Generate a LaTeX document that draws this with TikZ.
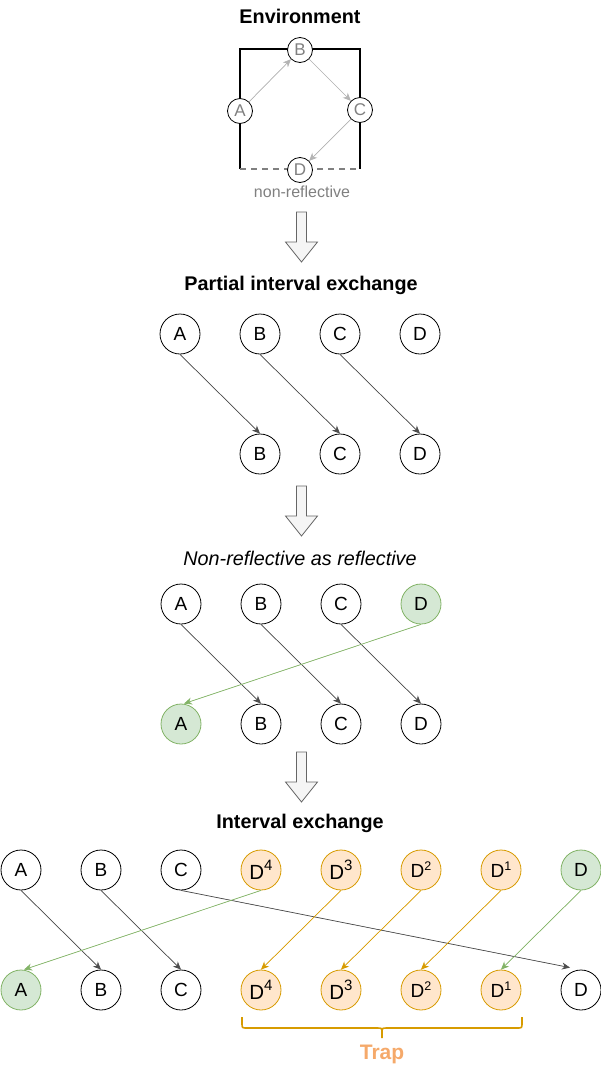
\documentclass[tikz,border=0pt]{standalone}
\usepackage{fontspec}
\setmainfont{Liberation Sans}
\usetikzlibrary{arrows.meta}
\definecolor{greenfill}{HTML}{D5E8D4}
\definecolor{greenline}{HTML}{82B366}
\definecolor{orangefill}{HTML}{FFE6CC}
\definecolor{orangeline}{HTML}{D79B00}
\definecolor{edgegray}{HTML}{4D4D4D}
\definecolor{envgray}{HTML}{808080}
\definecolor{envarrow}{HTML}{B3B3B3}
\definecolor{trapcol}{HTML}{F5A96A}
\definecolor{blockfill}{HTML}{F5F5F5}
\definecolor{blockline}{HTML}{666666}
\newcommand{\supbig}[1]{\raisebox{0.42em}{\fontsize{15}{15}\selectfont #1}}
\newcommand{\supsmall}[1]{\raisebox{0.36em}{\fontsize{12.5}{13}\selectfont #1}}
\tikzset{
  circ/.style={circle, draw, line width=0.8pt, minimum size=40pt, inner sep=0pt, fill=white, font=\fontsize{19}{21}\selectfont},
  gcirc/.style={circ, fill=greenfill, draw=greenline},
  ocirc/.style={circ, fill=orangefill, draw=orangeline, font=\fontsize{20.5}{22}\selectfont},
  ocircs/.style={circ, fill=orangefill, draw=orangeline, font=\fontsize{19}{20}\selectfont},
  ecirc/.style={circle, draw, line width=0.8pt, minimum size=25pt, inner sep=0pt, fill=white, text=envgray, font=\fontsize{17}{18}\selectfont},
  title/.style={font=\fontsize{19.8}{22}\selectfont\bfseries},
  tip/.style={-{Stealth[length=8pt,width=7pt,inset=2.5pt]}},
  edge/.style={tip, draw=edgegray, fill=edgegray, line width=0.7pt},
  gedge/.style={tip, draw=greenline, fill=greenline, line width=0.7pt},
  oedge/.style={tip, draw=orangeline, fill=orangeline, line width=0.7pt},
  eedge/.style={tip, draw=envarrow, fill=envarrow, line width=0.7pt},
  blockarrow/.style={fill=blockfill, draw=blockline, line width=0.8pt, line join=miter},
}
\newcommand{\blockdown}[1]{%
  \draw[blockarrow] (296.5,#1) -- (306.5,#1) -- (306.5,#1+30) -- (317.5,#1+30)
    -- (301.5,#1+50) -- (285.5,#1+30) -- (296.5,#1+30) -- cycle;}
\begin{document}
\begin{tikzpicture}[x=1pt,y=-1pt]
\useasboundingbox (0,0) rectangle (601,1071);

% ---------- Environment ----------
\node[title] (tEnv) at (300,16) {Environment};
\draw[line width=1.7pt] (240,169) -- (240,49) -- (360,49) -- (360,169);
\draw[envgray, line width=1.6pt, dash pattern=on 6pt off 5pt] (240,169) -- (360,169);
\node[ecirc] (eB) at (300,50) {B};
\node[ecirc] (eA) at (240,111) {A};
\node[ecirc] (eC) at (360,110) {C};
\node[ecirc] (eD) at (300,170) {D};
\draw[eedge] (eA) -- (eB);
\draw[eedge] (eB) -- (eC);
\draw[eedge] (eC) -- (eD);
\node[text=envgray, font=\fontsize{16}{18}\selectfont] (nonref) at (302,192) {non-reflective};

\blockdown{212}

% ---------- Partial interval exchange ----------
\node[title] (tPart) at (301,285) {Partial interval exchange};
\node[circ] (pA1) at (180,334) {A};
\node[circ] (pB1) at (260,334) {B};
\node[circ] (pC1) at (340,334) {C};
\node[circ] (pD1) at (420,334) {D};
\node[circ] (pB2) at (260,454) {B};
\node[circ] (pC2) at (340,454) {C};
\node[circ] (pD2) at (420,454) {D};
\draw[edge] (pA1.south) -- (pB2.north);
\draw[edge] (pB1.south) -- (pC2.north);
\draw[edge] (pC1.south) -- (pD2.north);

\blockdown{486}

% ---------- Non-reflective as reflective ----------
\node[font=\fontsize{19.8}{22}\selectfont\itshape] (tNon) at (300,558) {Non-reflective as reflective};
\node[circ] (nA1) at (181,604) {A};
\node[circ] (nB1) at (261,604) {B};
\node[circ] (nC1) at (341,604) {C};
\node[gcirc] (nD1) at (421,604) {D};
\node[gcirc] (nA2) at (181,724) {A};
\node[circ] (nB2) at (261,724) {B};
\node[circ] (nC2) at (341,724) {C};
\node[circ] (nD2) at (421,724) {D};
\draw[edge] (nA1.south) -- (nB2.north);
\draw[edge] (nB1.south) -- (nC2.north);
\draw[edge] (nC1.south) -- (nD2.north);
\draw[gedge] (nD1.south) -- ([xshift=3pt]nA2.north);

\blockdown{752}

% ---------- Interval exchange ----------
\node[title] (tInt) at (300,823) {Interval exchange};
\node[circ] (iA1) at (21,870) {A};
\node[circ] (iB1) at (101,870) {B};
\node[circ] (iC1) at (181,870) {C};
\node[ocirc] (i41) at (261,870) {D\supbig{4}};
\node[ocirc] (i31) at (341,870) {D\supbig{3}};
\node[ocircs] (i21) at (421,870) {D\supsmall{2}};
\node[ocircs] (i11) at (501,870) {D\supsmall{1}};
\node[gcirc] (iD1) at (581,870) {D};
\node[gcirc] (iA2) at (21,990) {A};
\node[circ] (iB2) at (101,990) {B};
\node[circ] (iC2) at (181,990) {C};
\node[ocirc] (i42) at (261,990) {D\supbig{4}};
\node[ocirc] (i32) at (341,990) {D\supbig{3}};
\node[ocircs] (i22) at (421,990) {D\supsmall{2}};
\node[ocircs] (i12) at (501,990) {D\supsmall{1}};
\node[circ] (iD2) at (581,990) {D};
\draw[edge] (iA1.south) -- (iB2.north);
\draw[edge] (iB1.south) -- (iC2.north);
\draw[edge] (iC1.south) -- ([xshift=-11pt,yshift=2pt]iD2.north);
\draw[gedge] (i41.south) -- ([xshift=3pt]iA2.north);
\draw[oedge] (i31.south) -- (i42.north);
\draw[oedge] (i21.south) -- (i32.north);
\draw[oedge] (i11.south) -- (i22.north);
\draw[gedge] (iD1.south) -- (i12.north);

% brace
\draw[orangeline, line width=1.6pt]
  (242,1017) -- (242,1023) .. controls (242,1028) .. (247,1028) -- (377,1028)
  .. controls (382,1028) .. (382,1033) -- (382,1038);
\draw[orangeline, line width=1.6pt]
  (382,1033) .. controls (382,1028) .. (387,1028) -- (517,1028)
  .. controls (522,1028) .. (522,1023) -- (522,1017);
\node[text=trapcol, font=\fontsize{21}{23}\selectfont\bfseries] (trap) at (382,1054) {Trap};
\end{tikzpicture}
\end{document}
